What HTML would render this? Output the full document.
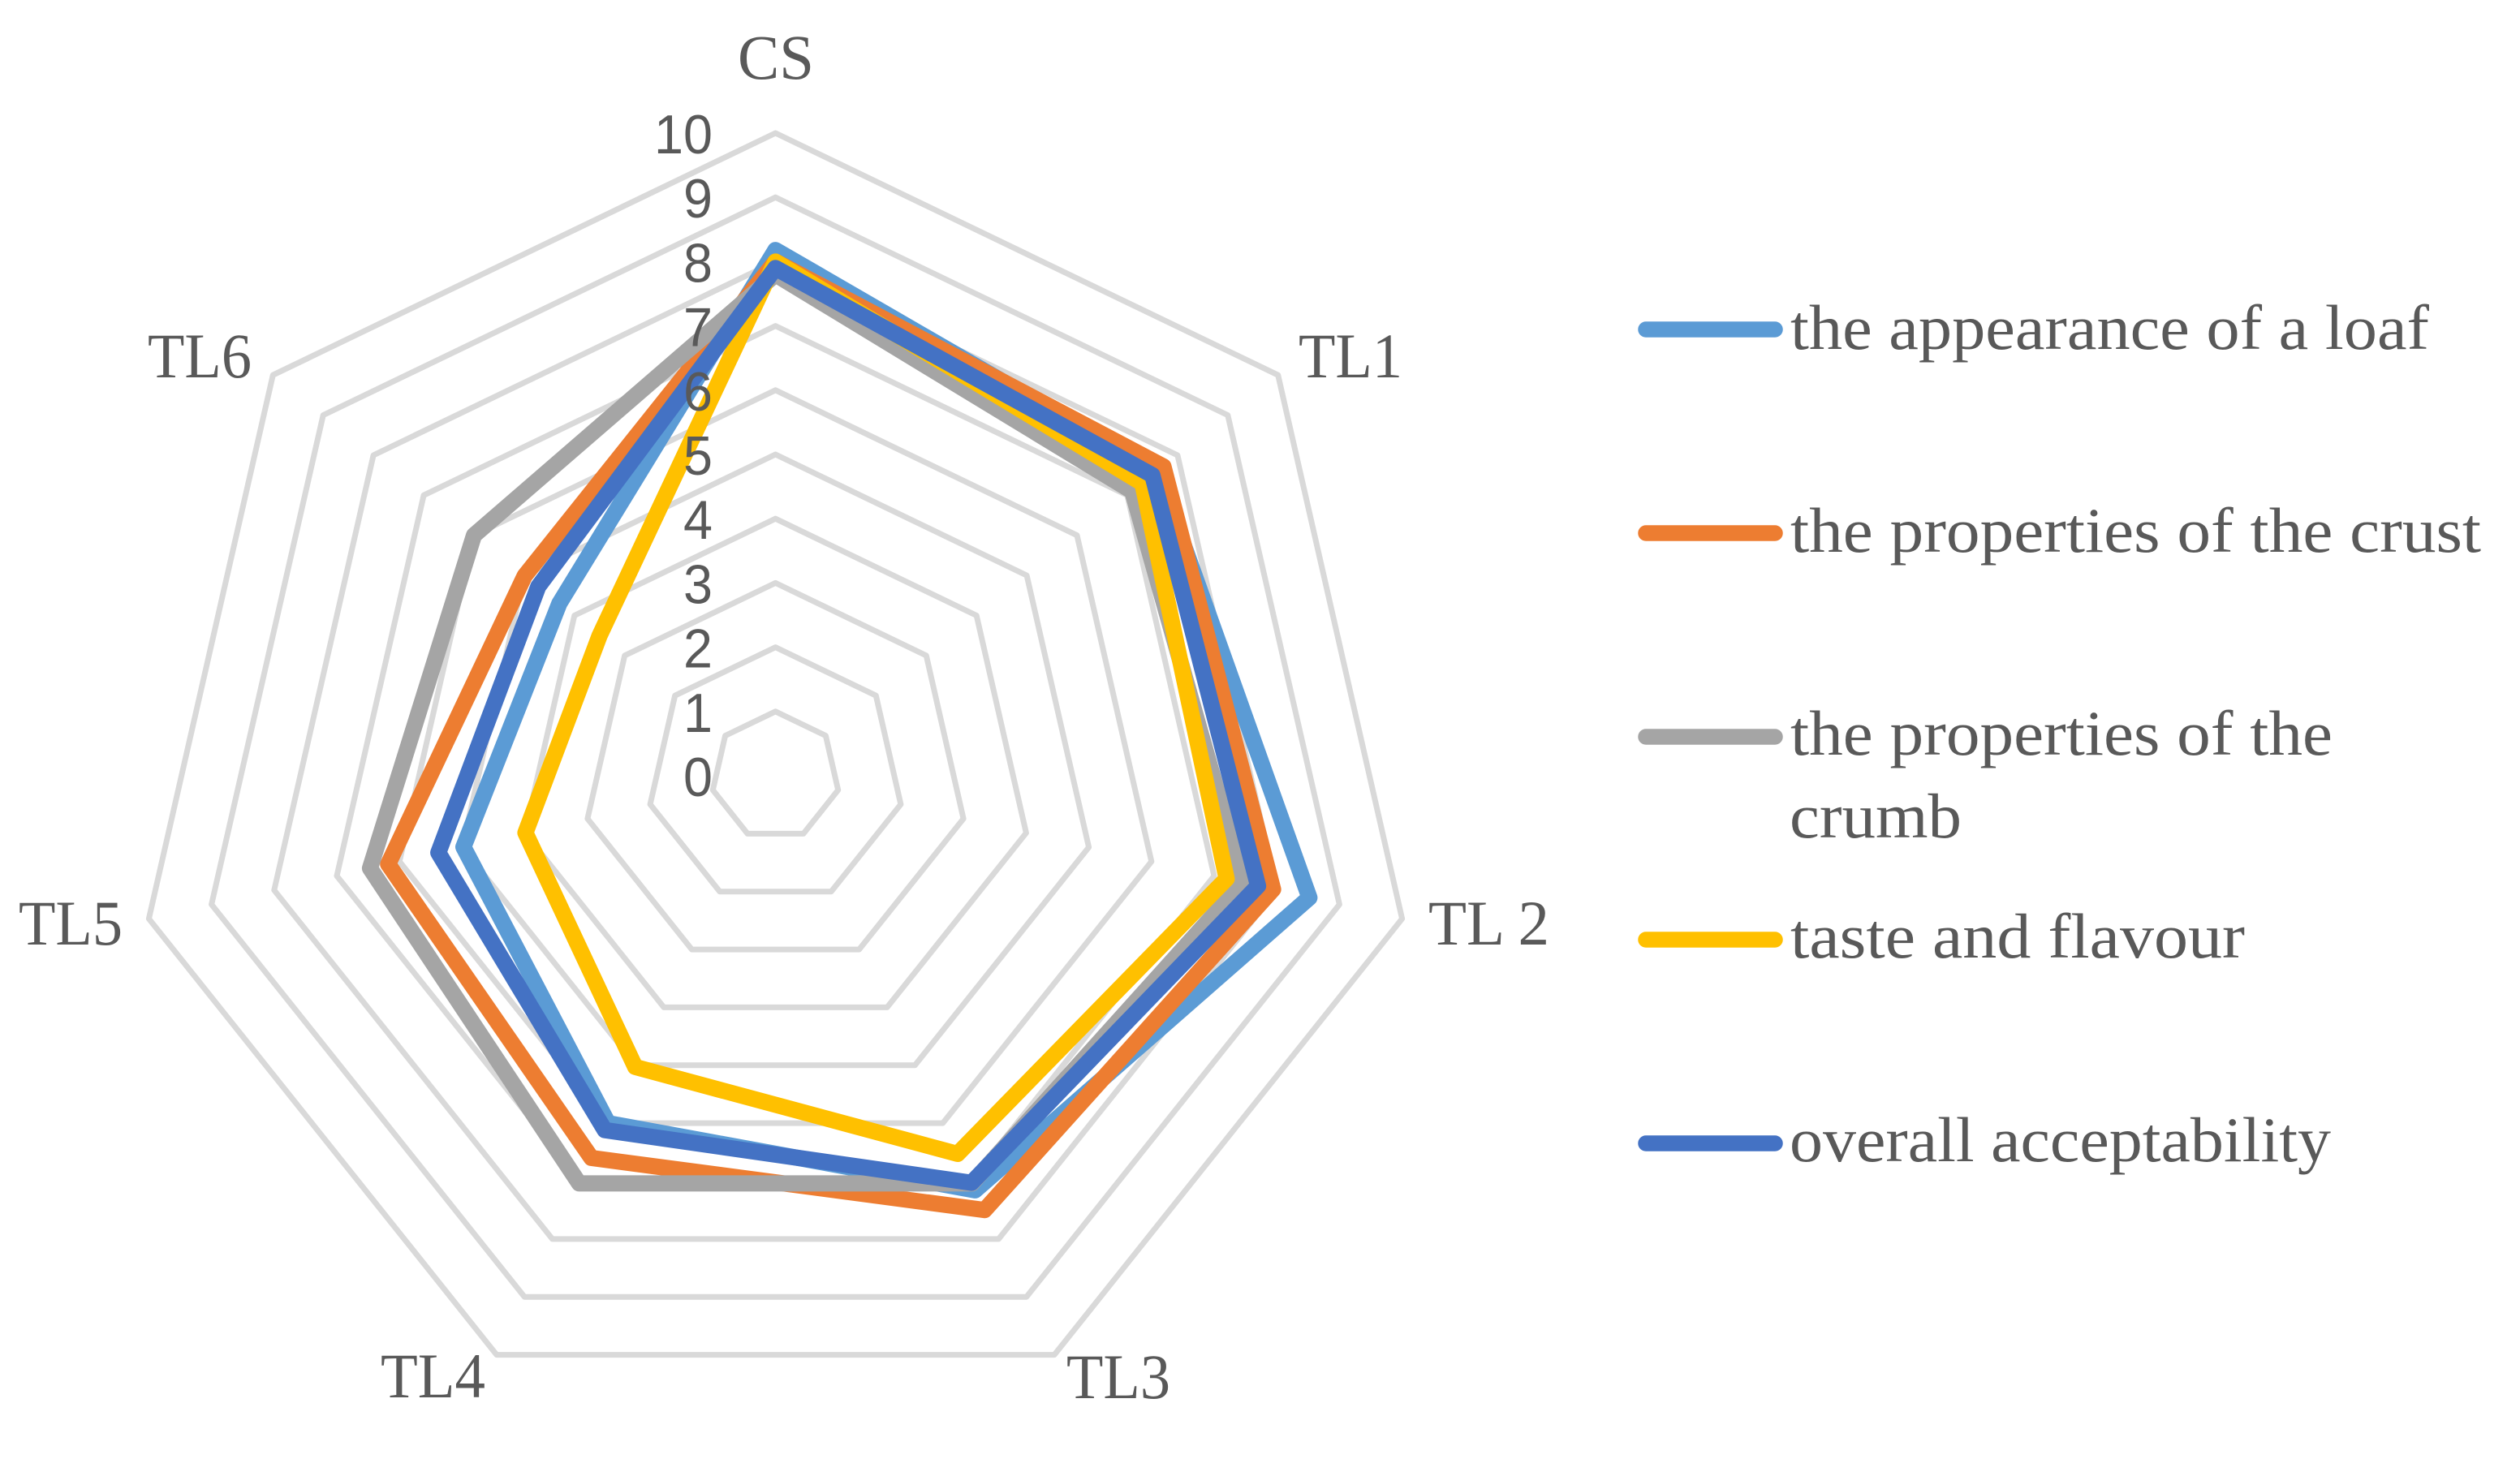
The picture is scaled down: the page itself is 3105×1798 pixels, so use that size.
<!DOCTYPE html>
<html lang="en">
<head>
<meta charset="utf-8">
<title>Radar chart</title>
<style>
html,body{margin:0;padding:0;background:#fff;}
body{width:3105px;height:1798px;overflow:hidden;}
svg{display:block;}
.cat,.leg{font-family:"Liberation Serif",serif;font-size:78px;fill:#595959;}
.tick{font-family:"Liberation Sans",sans-serif;font-size:68px;fill:#595959;}
</style>
</head>
<body>
<svg id="chart" xmlns="http://www.w3.org/2000/svg" width="3105" height="1798" viewBox="0 0 3105 1798">
  <rect x="0" y="0" width="3105" height="1798" fill="#ffffff"/>
  <g id="grid"></g>
  <g id="series"></g>
  <g id="ticks"></g>

  <g>
    <text class="cat" x="909" y="97" textLength="94" lengthAdjust="spacingAndGlyphs">CS</text>
    <text class="cat" x="1600" y="465" textLength="128" lengthAdjust="spacingAndGlyphs">TL1</text>
    <text class="cat" x="1760" y="1164" textLength="149" lengthAdjust="spacingAndGlyphs">TL 2</text>
    <text class="cat" x="1314" y="1723" textLength="128" lengthAdjust="spacingAndGlyphs">TL3</text>
    <text class="cat" x="469" y="1722" textLength="129" lengthAdjust="spacingAndGlyphs">TL4</text>
    <text class="cat" x="23" y="1164" textLength="128" lengthAdjust="spacingAndGlyphs">TL5</text>
    <text class="cat" x="182" y="465" textLength="128" lengthAdjust="spacingAndGlyphs">TL6</text>
  </g>

  <g stroke-linecap="round">
    <g>
      <line x1="2028" y1="406" x2="2187" y2="406" stroke="#5B9BD5" stroke-width="19.5"/>
      <text class="leg" x="2206" y="430" textLength="787" lengthAdjust="spacingAndGlyphs">the appearance of a loaf</text>
    </g>
    <g>
      <line x1="2028" y1="657" x2="2187" y2="657" stroke="#ED7D31" stroke-width="19.5"/>
      <text class="leg" x="2206" y="680" textLength="851" lengthAdjust="spacingAndGlyphs">the properties of the crust</text>
    </g>
    <g>
      <line x1="2028" y1="908" x2="2187" y2="908" stroke="#A5A5A5" stroke-width="19.5"/>
      <text class="leg" x="2206" y="930" textLength="668" lengthAdjust="spacingAndGlyphs">the properties of the</text>
      <text class="leg" x="2205" y="1032" textLength="212" lengthAdjust="spacingAndGlyphs">crumb</text>
    </g>
    <g>
      <line x1="2028" y1="1158" x2="2187" y2="1158" stroke="#FFC000" stroke-width="19.5"/>
      <text class="leg" x="2206" y="1180" textLength="560" lengthAdjust="spacingAndGlyphs">taste and flavour</text>
    </g>
    <g>
      <line x1="2028" y1="1409" x2="2187" y2="1409" stroke="#4472C4" stroke-width="19.5"/>
      <text class="leg" x="2205" y="1431" textLength="667" lengthAdjust="spacingAndGlyphs">overall acceptability</text>
    </g>
  </g>
</svg>
<script>
var categories = ["CS", "TL1", "TL 2", "TL3", "TL4", "TL5", "TL6"];
var tickLabels = ["0", "1", "2", "3", "4", "5", "6", "7", "8", "9", "10"];
var appearanceValues = [8.18, 7.6, 8.52, 7.16, 6.0, 4.98, 4.3];
var crustValues = [8.0, 7.72, 7.94, 7.5, 6.6, 6.18, 4.99];
var crumbValues = [7.8, 7.1, 7.46, 7.04, 7.04, 6.47, 6.0];
var tasteValues = [8.0, 7.3, 7.2, 6.53, 5.03, 3.99, 3.5];
var overallValues = [7.9, 7.5, 7.7, 7.03, 6.12, 5.38, 4.72];

var NS = "http://www.w3.org/2000/svg";
var CX = 955.5, CY = 956, UNIT = 79.2;

function radius(v) { return v * UNIT; }
function angle(i) { return i * 2 * Math.PI / categories.length; }
function pointX(i, v) { return CX + radius(v) * Math.sin(angle(i)); }
function pointY(i, v) { return CY - radius(v) * Math.cos(angle(i)); }
function polygonPoints(values) {
  return values.map(function (v, i) {
    return pointX(i, v).toFixed(1) + "," + pointY(i, v).toFixed(1);
  }).join(" ");
}

var gridGroup = document.getElementById("grid");
tickLabels.forEach(function (label) {
  var value = Number(label);
  if (value === 0) return;
  var ring = document.createElementNS(NS, "polygon");
  
  
  ring.setAttribute("points", polygonPoints(categories.map(function () { return value; })));
  ring.setAttribute("fill", "none");
  ring.setAttribute("stroke", "#D9D9D9");
  ring.setAttribute("stroke-width", "7");
  ring.setAttribute("stroke-linejoin", "round");
  gridGroup.appendChild(ring);
});

var tickGroup = document.getElementById("ticks");
tickLabels.forEach(function (label) {
  var t = document.createElementNS(NS, "text");
  
  
  t.setAttribute("class", "tick");
  t.setAttribute("text-anchor", "end");
  t.setAttribute("x", "878");
  t.setAttribute("y", (CY - radius(Number(label)) + 25).toFixed(1));
  t.setAttribute("textLength", String(36 * label.length));
  t.setAttribute("lengthAdjust", "spacingAndGlyphs");
  t.textContent = label;
  tickGroup.appendChild(t);
});

var seriesGroup = document.getElementById("series");
function drawSeries(name, values, color) {
  var line = document.createElementNS(NS, "polygon");
  
  
  line.setAttribute("points", polygonPoints(values));
  line.setAttribute("fill", "none");
  line.setAttribute("stroke", color);
  line.setAttribute("stroke-width", "20");
  line.setAttribute("stroke-linejoin", "round");
  seriesGroup.appendChild(line);
}
drawSeries("series-appearance-of-loaf", appearanceValues, "#5B9BD5");
drawSeries("series-properties-of-crust", crustValues, "#ED7D31");
drawSeries("series-properties-of-crumb", crumbValues, "#A5A5A5");
drawSeries("series-taste-and-flavour", tasteValues, "#FFC000");
drawSeries("series-overall-acceptability", overallValues, "#4472C4");
</script>
</body>
</html>
